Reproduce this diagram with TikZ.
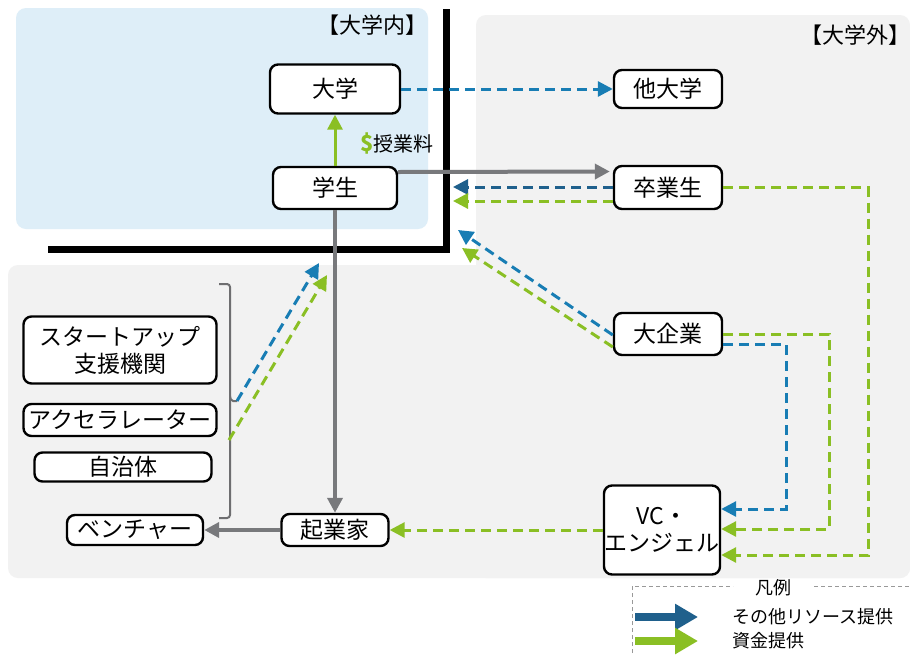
\documentclass[tikz,border=0pt]{standalone}
\usepackage{fontspec}
\setmainfont{Noto Sans CJK JP}
\usetikzlibrary{arrows.meta}
\definecolor{bgblue}{HTML}{DEEEF8}
\definecolor{bggrey}{HTML}{F2F2F2}
\definecolor{blueline}{RGB}{24,125,180}
\definecolor{darkblue}{RGB}{31,96,140}
\definecolor{greenline}{RGB}{138,191,36}
\definecolor{greyarrow}{HTML}{78797C}
\definecolor{bracketgrey}{HTML}{6E6E70}
\begin{document}
\begin{tikzpicture}[x=1pt,y=-1pt,
  box/.style={draw=black, line width=2.4pt, rounded corners=8pt, fill=white, inner sep=0pt, align=center, font=\fontsize{23}{27}\selectfont},
  tipT/.style={-{Triangle[length=15pt,width=15pt]}},
  bluedash/.style={draw=blueline, line width=3pt, dash pattern=on 10pt off 6pt, tipT},
  greendash/.style={draw=greenline, line width=3pt, dash pattern=on 10pt off 6pt, tipT},
  greyarr/.style={draw=greyarrow, line width=4pt, tipT},
  region/.style={rounded corners=10pt, draw=none},
  legarrow/.style={line width=8pt, -{Triangle[length=23pt,width=25pt]}},
  legtext/.style={anchor=west, inner sep=0pt, font=\fontsize{18}{21}\selectfont}
]
\useasboundingbox (0,0) rectangle (910,654);
\fill[white] (0,0) rectangle (910,654);
% regions
\fill[bgblue, region] (16,8) rectangle (428,229);
\fill[bggrey, region] (476,15) rectangle (910,578);
\fill[bggrey, region] (8,265) rectangle (910,578);
% thick border
\draw[line width=7pt, line join=miter] (446,9) -- (446,249) -- (48,249);
% region labels
\node[font=\fontsize{22}{26}\selectfont, inner sep=0pt] (inlabel) at (372,25) {【大学内】};
\node[font=\fontsize{22}{26}\selectfont, inner sep=0pt] (outlabel) at (855,35) {【大学外】};
% nodes
\node[box, minimum width=130pt, minimum height=49pt] (daigaku) at (335,89) {大学};
\node[box, minimum width=124pt, minimum height=42pt] (gakusei) at (335,188) {学生};
\node[box, minimum width=108pt, minimum height=38pt] (tadaigaku) at (668,89) {他大学};
\node[box, minimum width=108pt, minimum height=43pt] (sotsu) at (668,187.5) {卒業生};
\node[box, minimum width=108pt, minimum height=42pt] (daikigyo) at (668,334) {大企業};
\node[box, minimum width=116pt, minimum height=89pt] (vc) at (662,530) {VC・\\エンジェル};
\node[box, minimum width=107pt, minimum height=32pt] (kigyoka) at (335,530) {起業家};
\node[box, minimum width=136pt, minimum height=30pt] (venture) at (135,530) {ベンチャー};
\node[box, minimum width=193pt, minimum height=67pt] (support) at (120,350) {スタートアップ\\支援機関};
\node[box, minimum width=193pt, minimum height=32pt] (accel) at (120,420) {アクセラレーター};
\node[box, minimum width=177pt, minimum height=29pt] (jichitai) at (123,467) {自治体};
% bracket
\draw[draw=bracketgrey, line width=2pt, rounded corners=3pt] (219,284) -- (230,284) -- (230,518) -- (219,518);
\draw[draw=bracketgrey, line width=2pt, rounded corners=2pt] (230,396) -- (231,401) -- (237,401);
\coordinate (brtick) at (237,401);
\coordinate (brlow) at (229,440);
\coordinate (tipBrB) at (319,263);
\coordinate (tipBrG) at (327,275);
% arrows
\draw[draw=greenline, line width=3pt, tipT] (gakusei.north) -- (daigaku.south);
\node[font=\fontsize{20}{24}\selectfont, anchor=west, inner sep=0pt] (fee) at (360,143) {\textcolor{greenline}{\fontsize{22}{24}\selectfont\textbf{\$}}授業料};
\draw[bluedash] (daigaku.east) -- (tadaigaku.west);
\draw[greyarr, shorten >=3pt] ([yshift=16pt]gakusei.east) -- ([yshift=16pt]sotsu.west);
\coordinate (tipSB) at (453,187);
\coordinate (tipSG) at (453,201);
\draw[draw=darkblue, line width=3pt, dash pattern=on 10pt off 6pt, tipT] ([yshift=0.5pt]sotsu.west) -- (tipSB);
\draw[greendash] ([yshift=-13.5pt]sotsu.west) -- (tipSG);
\coordinate (tipDB) at (458,230);
\coordinate (tipDG) at (462,248);
\draw[bluedash] ([yshift=-1pt]daikigyo.west) -- (tipDB);
\draw[greendash] ([yshift=-13pt]daikigyo.west) -- (tipDG);
\draw[greendash] (daikigyo.east) -- ++(106,0) |- ([yshift=1pt]vc.east);
\draw[bluedash] ([yshift=-10pt]daikigyo.east) -- ++(63,0) |- ([yshift=21pt]vc.east);
\draw[greendash] (sotsu.east) -- ++(145,0) |- ([yshift=-25pt]vc.east);
\draw[greendash] (vc.west) -- (kigyoka.east);
\draw[greyarr] (gakusei.south) -- (kigyoka.north);
\draw[greyarr] (kigyoka.west) -- (venture.east);
\draw[bluedash] (brtick) -- (tipBrB);
\draw[greendash] (brlow) -- (tipBrG);
% legend
\draw[draw=gray!80, line width=1pt, dash pattern=on 4pt off 3pt] (632,660) -- (632,586) -- (733,586);
\draw[draw=gray!80, line width=1pt, dash pattern=on 4pt off 3pt] (814,586) -- (912,586);
\node[font=\fontsize{18}{21}\selectfont] (legtitle) at (773,588) {凡例};
\coordinate (lg1s) at (635,617); \coordinate (lg1e) at (698,617);
\coordinate (lg2s) at (635,641); \coordinate (lg2e) at (698,641);
\draw[legarrow, draw=darkblue] (lg1s) -- (lg1e);
\draw[legarrow, draw=greenline] (lg2s) -- (lg2e);
\node[legtext] (leg1) at (732,617) {その他リソース提供};
\node[legtext] (leg2) at (732,641) {資金提供};
\end{tikzpicture}
\end{document}
